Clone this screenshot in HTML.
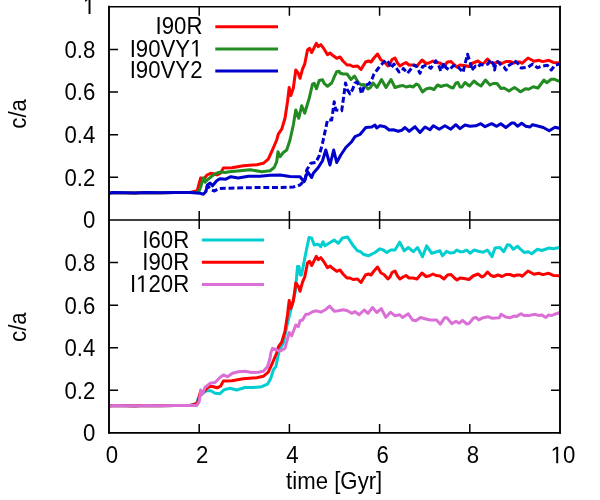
<!DOCTYPE html>
<html><head><meta charset="utf-8"><title>c/a vs time</title>
<style>
html,body{margin:0;padding:0;background:#fff;}
body{width:600px;height:500px;overflow:hidden;}
svg{display:block;}
text{font-family:"Liberation Sans",sans-serif;font-size:96px;fill:#000;}
.c{fill:none;stroke-width:3;stroke-linejoin:round;stroke-linecap:butt;}
.ax{stroke:#000;stroke-width:1.5;fill:none;}
</style></head><body>
<svg width="600" height="500" viewBox="0 0 600 500">
<rect x="0" y="0" width="600" height="500" fill="#fff"/>
<g class="c">
<polyline stroke="#ff0000" points="109.0,193.2 113.0,192.6 125.0,192.7 135.0,192.9 145.0,192.6 160.0,192.8 175.0,192.5 190.0,192.5 197.3,190.7 199.0,184.0 200.7,177.9 201.8,179.6 205.0,177.7 207.0,175.0 210.7,173.3 213.3,173.7 217.0,174.8 220.7,173.0 223.3,168.1 232.0,167.8 243.3,165.8 256.7,164.7 263.3,163.3 268.3,159.2 271.7,151.7 276.7,140.0 278.3,134.2 281.7,129.2 285.0,118.3 287.5,101.7 289.2,87.5 290.8,95.5 293.3,88.3 295.8,70.0 298.3,73.3 300.0,78.3 302.5,69.2 304.7,64.2 307.5,50.0 309.7,48.3 311.7,52.5 316.3,43.3 318.3,46.7 320.8,44.7 324.2,49.2 327.5,54.7 330.0,53.0 333.3,55.8 336.7,58.3 340.0,57.0 343.0,61.0 347.0,65.0 350.0,65.0 353.0,66.5 357.5,66.0 361.0,69.5 365.5,62.0 368.5,61.0 371.0,62.0 374.0,58.0 377.5,54.0 381.0,60.0 384.0,61.5 388.0,66.0 390.0,64.0 392.0,59.5 395.0,58.0 397.5,63.0 400.0,66.0 403.0,64.0 406.0,62.5 409.0,65.0 413.0,65.0 417.0,66.0 422.0,60.0 426.0,63.5 429.0,63.0 433.0,61.0 436.0,62.5 440.0,63.0 444.0,66.0 447.5,62.0 451.0,61.5 454.5,65.0 457.0,67.0 460.0,65.0 464.0,65.5 469.0,66.5 473.0,63.0 478.0,61.0 482.0,64.0 484.0,63.0 487.5,59.0 491.0,62.5 494.0,63.5 498.0,62.0 502.0,63.5 506.0,61.5 510.0,61.5 514.0,63.0 517.0,62.0 520.0,62.0 522.0,63.3 528.0,58.0 534.0,61.3 538.7,60.3 542.7,61.6 548.7,60.3 553.3,62.4 559.2,62.7"/>
<polyline stroke="#228b22" points="109.0,193.2 113.0,192.6 125.0,192.7 135.0,192.9 145.0,192.6 160.0,192.8 175.0,192.5 190.0,192.5 197.0,192.3 199.0,191.2 200.7,187.0 203.3,177.9 205.0,182.3 208.0,179.3 212.0,176.0 216.0,173.5 220.7,171.9 225.3,172.5 229.3,171.8 240.0,170.8 250.0,169.7 261.7,171.7 270.0,170.8 274.2,167.5 276.7,161.7 278.0,151.7 280.0,156.7 283.3,152.5 286.7,150.0 290.0,140.0 293.3,125.0 295.8,110.0 298.7,118.3 301.7,105.8 304.7,113.3 309.2,98.3 312.5,84.2 314.2,83.3 316.5,88.8 319.2,80.5 322.5,79.7 324.2,83.3 327.5,86.3 331.7,83.0 334.2,77.0 336.7,71.7 339.2,71.3 340.0,73.0 343.0,74.0 347.0,74.0 351.0,79.5 354.5,76.0 358.0,82.0 361.0,85.0 364.0,84.5 368.0,89.0 370.5,87.5 373.0,83.0 377.0,87.5 381.5,79.5 386.0,87.5 391.0,79.5 395.0,87.5 400.0,86.0 403.0,85.5 406.0,87.0 410.0,86.0 413.0,87.0 416.5,84.0 418.5,85.0 422.5,92.0 426.0,89.0 430.0,88.0 434.0,89.5 437.5,85.0 441.0,86.5 444.0,85.5 447.0,85.0 450.0,87.0 453.0,88.0 456.0,83.0 458.0,82.5 460.0,87.0 462.0,87.0 465.0,82.5 469.5,86.0 474.0,81.0 477.5,84.0 481.0,86.0 485.5,80.0 490.0,85.0 493.0,83.5 497.0,83.5 501.0,88.5 504.0,88.0 509.0,91.0 512.0,89.0 514.5,87.5 517.5,89.5 520.0,91.5 520.7,91.7 525.3,88.7 528.7,89.3 533.3,86.7 538.0,88.0 544.0,80.0 546.7,82.7 551.3,79.3 554.7,79.3 559.2,81.3"/>
<polyline stroke="#0000cd" points="109.0,193.2 113.0,192.6 125.0,192.7 135.0,192.9 145.0,192.6 160.0,192.8 175.0,192.5 190.0,192.5 200.0,193.3 203.3,194.2 205.8,191.7 207.5,185.0 210.0,183.0 212.5,185.8 216.7,180.8 220.0,178.7 225.8,179.2 230.8,176.7 238.3,178.0 248.3,176.3 260.0,176.3 270.0,175.3 280.0,174.9 290.0,176.5 300.0,176.7 304.2,181.7 307.5,171.7 311.7,177.5 313.3,173.3 318.3,167.5 322.5,160.8 325.8,150.0 330.0,165.0 333.7,150.0 336.7,162.5 340.8,155.0 345.8,147.5 351.7,141.7 355.0,136.7 360.0,134.5 365.8,127.5 371.7,127.0 375.0,125.0 376.7,128.0 380.0,125.8 385.0,126.7 389.2,130.0 393.3,129.7 398.3,131.3 401.7,130.3 405.0,127.5 409.2,131.3 415.0,126.7 420.0,132.5 425.0,127.0 430.0,129.7 433.3,125.8 439.2,129.2 445.0,125.8 450.8,129.2 455.8,124.7 460.0,128.6 465.0,125.0 470.0,126.2 475.8,125.8 480.8,123.7 485.0,126.7 491.7,123.7 496.7,126.3 500.8,123.7 505.8,127.5 511.7,123.0 514.2,123.0 517.5,126.3 521.7,123.3 525.8,126.3 530.0,127.0 532.5,124.7 536.7,125.8 543.3,127.5 549.2,130.8 555.0,127.2 559.2,128.3"/>
<polyline stroke="#0000cd" stroke-dasharray="5.9 2.8" stroke-dashoffset="4.6" points="205.8,191.5 207.3,185.5 211.0,189.7 214.5,191.0 218.7,188.6 225.0,188.2 230.0,188.2 256.7,187.5 280.0,187.5 293.3,187.0 300.0,185.0 305.0,180.0 306.7,170.0 310.8,163.3 315.8,162.5 319.2,155.8 322.5,143.3 325.0,131.7 327.5,120.0 331.7,120.0 334.2,101.7 335.8,110.0 341.7,110.8 343.5,98.0 345.5,83.0 347.5,90.0 350.0,94.0 352.5,89.5 355.0,83.0 357.0,82.0 360.0,88.0 361.5,94.0 364.0,87.0 365.5,85.0 369.0,84.0 372.0,79.0 374.0,74.0 377.0,70.0 380.0,66.0 383.0,63.0 386.0,60.0 389.0,63.0 391.0,68.0 394.0,64.0 397.0,69.0 399.0,72.0 402.5,70.8 403.3,68.5 407.5,73.3 414.2,65.0 416.7,66.7 420.0,73.3 422.5,66.7 426.7,65.0 430.8,68.3 435.8,60.8 438.3,64.2 440.8,71.0 444.2,62.8 445.8,67.5 449.2,70.0 453.3,65.8 456.7,65.8 460.0,69.0 463.0,72.5 464.5,66.0 466.0,60.0 467.5,54.3 468.5,57.5 471.0,65.0 471.6,70.3 475.5,66.0 477.5,67.0 480.5,64.5 484.0,65.0 488.0,64.0 490.0,60.0 493.5,64.0 494.6,70.0 495.5,65.0 497.5,61.5 501.5,65.5 504.0,67.0 506.0,70.0 508.0,66.0 512.0,63.5 514.0,60.5 518.0,63.5 520.0,67.0 521.3,68.0 528.0,67.3 532.7,64.0 537.3,67.7 542.7,66.0 547.3,65.3 551.3,70.0 554.7,65.3 559.2,64.0"/>
<polyline stroke="#00ced1" points="109.0,406.2 113.0,405.6 125.0,405.7 135.0,405.9 145.0,405.6 160.0,405.8 175.0,405.5 190.0,405.5 196.7,403.3 198.3,398.3 201.5,394.0 206.7,390.8 210.8,390.8 215.0,393.3 220.0,393.7 224.2,389.7 230.0,388.3 236.7,390.0 245.0,387.5 253.3,387.5 261.7,386.7 267.5,384.2 270.8,378.3 273.3,370.0 275.8,366.7 278.3,355.0 279.2,350.0 283.3,343.3 287.5,323.3 290.8,310.0 295.3,291.7 297.5,266.5 299.0,266.5 300.2,275.0 301.5,275.0 305.0,257.0 309.0,237.5 311.7,238.3 314.2,245.0 318.3,244.2 320.8,246.7 323.0,241.7 325.0,245.8 334.2,240.0 338.3,243.3 342.5,238.0 347.5,237.0 353.3,245.8 357.5,250.8 360.8,251.7 363.3,254.2 368.3,255.8 375.0,252.5 380.0,248.8 383.3,250.0 386.7,252.5 390.8,250.0 395.0,250.0 399.7,242.2 404.2,250.8 408.3,247.5 413.3,251.7 417.5,247.5 422.5,256.7 426.7,245.8 431.7,253.3 440.0,250.8 442.5,255.8 446.7,251.3 450.0,253.0 454.2,252.5 456.7,250.0 460.0,251.7 463.3,251.7 466.7,250.0 470.0,253.3 474.2,250.0 478.3,251.3 483.3,252.2 487.5,250.0 492.0,256.7 495.0,248.0 500.0,247.5 503.7,251.7 507.5,244.7 510.0,245.3 513.3,249.2 517.5,246.3 524.2,252.5 528.3,251.7 531.7,253.7 537.5,249.2 541.7,250.5 549.2,248.0 553.3,248.7 559.2,247.5"/>
<polyline stroke="#ff0000" points="109.0,406.2 113.0,405.6 125.0,405.7 135.0,405.9 145.0,405.6 160.0,405.8 175.0,405.5 190.0,405.5 197.3,403.7 199.0,397.0 200.7,390.9 201.8,392.6 205.0,390.7 207.0,388.0 210.7,386.3 213.3,386.7 217.0,387.8 220.7,386.0 223.3,381.1 232.0,380.8 243.3,378.8 256.7,377.7 263.3,376.3 268.3,372.2 271.7,364.7 276.7,353.0 278.3,347.2 281.7,342.2 285.0,331.3 287.5,314.7 289.2,300.5 290.8,308.5 293.3,301.3 295.8,283.0 298.3,286.3 300.0,291.3 302.5,282.2 304.7,277.2 307.5,263.0 309.7,261.3 311.7,265.5 316.3,256.3 318.3,259.7 320.8,257.7 324.2,262.2 327.5,267.7 330.0,266.0 333.3,268.8 336.7,271.3 340.0,270.0 343.0,274.0 347.0,278.0 350.0,278.0 353.0,279.5 357.5,279.0 361.0,282.5 365.5,275.0 368.5,274.0 371.0,275.0 374.0,271.0 377.5,267.0 381.0,273.0 384.0,274.5 388.0,279.0 390.0,277.0 392.0,272.5 395.0,271.0 397.5,276.0 400.0,279.0 403.0,277.0 406.0,275.5 409.0,278.0 413.0,278.0 417.0,279.0 422.0,273.0 426.0,276.5 429.0,276.0 433.0,274.0 436.0,275.5 440.0,276.0 444.0,279.0 447.5,275.0 451.0,274.5 454.5,278.0 457.0,280.0 460.0,278.0 464.0,278.5 469.0,279.5 473.0,276.0 478.0,274.0 482.0,277.0 484.0,276.0 487.5,272.0 491.0,275.5 494.0,276.5 498.0,275.0 502.0,276.5 506.0,274.5 510.0,274.5 514.0,276.0 517.0,275.0 520.0,275.0 522.0,276.3 528.0,271.0 534.0,274.3 538.7,273.3 542.7,274.6 548.7,273.3 553.3,275.4 559.2,275.7"/>
<polyline stroke="#da70d6" points="109.0,406.2 113.0,405.6 125.0,405.7 135.0,405.9 145.0,405.6 160.0,405.8 175.0,405.5 190.0,405.5 196.7,405.5 199.2,401.7 200.8,390.0 202.5,394.2 205.0,387.5 210.0,383.3 215.0,382.5 220.0,377.5 223.3,375.0 227.5,376.7 232.5,373.3 238.3,371.7 245.0,371.3 251.7,372.5 258.3,372.2 263.3,371.3 267.5,366.7 270.0,358.3 270.8,353.3 272.5,348.3 276.7,349.7 279.2,351.3 285.0,348.3 289.2,332.5 291.7,335.8 295.8,325.0 298.3,326.7 300.0,320.8 302.5,320.0 305.8,314.2 308.3,314.2 312.5,311.7 316.7,310.8 320.8,312.2 325.0,310.0 329.7,306.2 334.2,311.3 338.3,310.8 343.3,309.7 347.5,310.8 351.7,313.3 355.0,311.7 359.2,314.7 364.2,310.0 368.0,313.3 372.5,307.5 376.7,312.5 381.3,308.7 385.8,317.2 390.5,312.2 395.0,315.8 399.7,314.7 402.5,317.5 408.3,313.8 412.5,320.0 415.8,320.8 420.5,317.5 425.0,318.7 430.0,320.0 436.5,319.9 440.4,324.2 444.7,317.7 446.9,317.7 451.7,323.6 456.0,321.4 459.3,323.2 462.5,320.3 466.8,324.0 469.0,323.6 473.3,318.2 475.9,317.3 478.8,319.9 483.1,317.7 488.1,316.7 491.8,318.2 499.3,317.7 501.1,314.3 505.8,317.1 510.2,317.7 514.5,316.0 516.7,316.4 521.0,313.8 524.3,315.6 528.6,315.6 535.1,314.3 538.3,315.4 541.6,314.9 545.9,317.5 548.7,314.9 551.3,315.6 554.6,314.3 559.2,312.8"/>
<path stroke="#ff0000" d="M215.3 26.7H278"/>
<path stroke="#228b22" d="M215.3 48.9H278"/>
<path stroke="#0000cd" d="M215.3 71.1H278"/>
<path stroke="#00ced1" d="M201.9 240.1H264"/>
<path stroke="#ff0000" d="M201.9 262.2H264"/>
<path stroke="#da70d6" d="M201.9 284.5H264"/>
</g>
<g class="ax">
<path stroke-width="1.6" stroke-linecap="square" d="M109.0 6.7H560.0M109.0 220.0H560.0M109.0 432.9H560.0"/>
<path stroke-width="1.9" stroke-linecap="square" d="M109.0 6.7V432.9M560.0 6.7V432.9"/>
<path d="M109.0 177.3h9M560.0 177.3h-9M109.0 390.3h9M560.0 390.3h-9M109.0 134.7h9M560.0 134.7h-9M109.0 347.7h9M560.0 347.7h-9M109.0 92.0h9M560.0 92.0h-9M109.0 305.2h9M560.0 305.2h-9M109.0 49.4h9M560.0 49.4h-9M109.0 262.6h9M560.0 262.6h-9M199.2 220.0v-9M199.2 6.7v9M199.2 432.9v-9M199.2 220.0v9M289.4 220.0v-9M289.4 6.7v9M289.4 432.9v-9M289.4 220.0v9M379.6 220.0v-9M379.6 6.7v9M379.6 432.9v-9M379.6 220.0v9M469.8 220.0v-9M469.8 6.7v9M469.8 432.9v-9M469.8 220.0v9"/>
</g>
<g style="opacity:0.999">
<text transform="translate(95.3 228.4) scale(0.23125 0.25)" text-anchor="end">0</text>
<text transform="translate(95.3 185.7) scale(0.23125 0.25)" text-anchor="end">0.2</text>
<text transform="translate(95.3 143.1) scale(0.23125 0.25)" text-anchor="end">0.4</text>
<text transform="translate(95.3 100.4) scale(0.23125 0.25)" text-anchor="end">0.6</text>
<text transform="translate(95.3 57.8) scale(0.23125 0.25)" text-anchor="end">0.8</text>
<g transform="translate(95.3 13.9) scale(0.23125 0.25)"><text text-anchor="end"><tspan visibility="hidden">1</tspan></text><path transform="translate(-53.39 0) scale(0.046875 -0.046875)" d="M515 0V1237L197 1010V1180L530 1409H696V0Z"/></g>
<text transform="translate(95.3 441.3) scale(0.23125 0.25)" text-anchor="end">0</text>
<text transform="translate(95.3 398.7) scale(0.23125 0.25)" text-anchor="end">0.2</text>
<text transform="translate(95.3 356.1) scale(0.23125 0.25)" text-anchor="end">0.4</text>
<text transform="translate(95.3 313.6) scale(0.23125 0.25)" text-anchor="end">0.6</text>
<text transform="translate(95.3 271.0) scale(0.23125 0.25)" text-anchor="end">0.8</text>
<text transform="translate(112.0 463.2) scale(0.23125 0.25)" text-anchor="middle">0</text>
<text transform="translate(202.2 463.2) scale(0.23125 0.25)" text-anchor="middle">2</text>
<text transform="translate(292.4 463.2) scale(0.23125 0.25)" text-anchor="middle">4</text>
<text transform="translate(382.6 463.2) scale(0.23125 0.25)" text-anchor="middle">6</text>
<text transform="translate(472.8 463.2) scale(0.23125 0.25)" text-anchor="middle">8</text>
<g transform="translate(563.0 463.2) scale(0.23125 0.25)"><text text-anchor="middle"><tspan visibility="hidden">1</tspan>0</text><path transform="translate(-53.39 0) scale(0.046875 -0.046875)" d="M515 0V1237L197 1010V1180L530 1409H696V0Z"/></g>
<text transform="translate(334.2 489.3) scale(0.23125 0.25)" text-anchor="middle">time [Gyr]</text>
<text transform="translate(26.0 113.9) rotate(-90) scale(0.23125 0.25)" text-anchor="middle">c/a</text>
<text transform="translate(26.0 327.1) rotate(-90) scale(0.23125 0.25)" text-anchor="middle">c/a</text>
<text transform="translate(202.5 34.2) scale(0.23125 0.25)" text-anchor="end">I90R</text>
<g transform="translate(202.5 56.6) scale(0.23125 0.25)"><text text-anchor="end">I90VY<tspan visibility="hidden">1</tspan></text><path transform="translate(-53.39 0) scale(0.046875 -0.046875)" d="M515 0V1237L197 1010V1180L530 1409H696V0Z"/></g>
<text transform="translate(202.5 78.4) scale(0.23125 0.25)" text-anchor="end">I90VY2</text>
<text transform="translate(189.2 247.8) scale(0.23125 0.25)" text-anchor="end">I60R</text>
<text transform="translate(189.2 269.8) scale(0.23125 0.25)" text-anchor="end">I90R</text>
<g transform="translate(189.2 291.9) scale(0.23125 0.25)"><text text-anchor="end">I<tspan visibility="hidden">1</tspan>20R</text><path transform="translate(-229.50 0) scale(0.046875 -0.046875)" d="M515 0V1237L197 1010V1180L530 1409H696V0Z"/></g>
</g>
</svg></body></html>
